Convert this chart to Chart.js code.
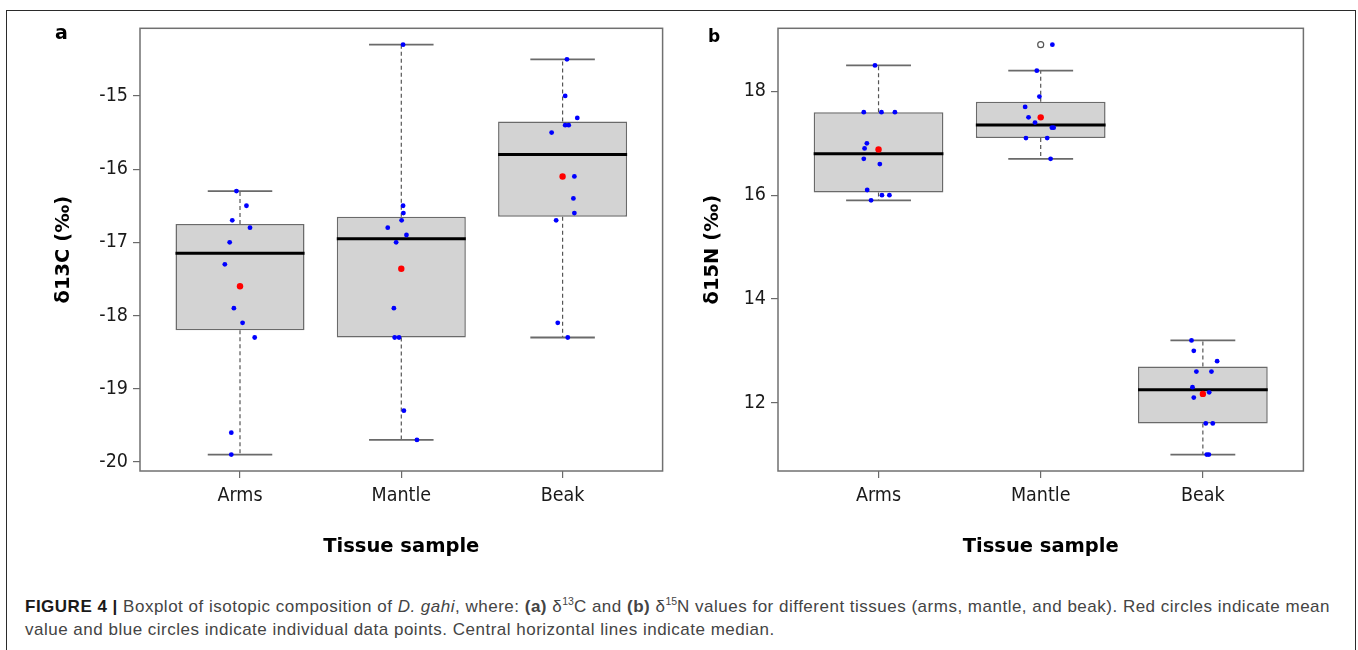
<!DOCTYPE html>
<html>
<head>
<meta charset="utf-8">
<script src="https://cdn.jsdelivr.net/npm/chart.js@4.4.1/dist/chart.umd.min.js"></script>
<style>
html,body{margin:0;padding:0;background:#fff;}
#wrap{position:relative;width:1358px;height:650px;overflow:hidden;background:#fff;}
#frame{position:absolute;left:6px;top:10px;width:1350px;height:680px;border:1.5px solid #2b2b2b;box-sizing:border-box;}
canvas{position:absolute;top:0;}
#ca{left:0;}
#cb{left:680px;}
.lab{position:absolute;font-family:"DejaVu Sans",sans-serif;font-weight:bold;color:#000;line-height:1;}
#caption{position:absolute;left:25px;top:595px;font-family:"Liberation Sans",Arial,sans-serif;font-size:17px;letter-spacing:0.5px;color:#444;line-height:23.4px;white-space:nowrap;}
#caption b.fig{color:#1a1a1a;}
#caption sup{font-size:10.5px;vertical-align:7px;line-height:0;letter-spacing:0;}
</style>
</head>
<body>
<div id="wrap">
  <div id="frame"></div>
  <canvas id="ca" width="680" height="570"></canvas>
  <canvas id="cb" width="678" height="570"></canvas>
  <div class="lab" style="left:55px;top:23px;font-size:19px;">a</div>
  <div class="lab" style="left:708px;top:28px;font-size:17px;">b</div>
  <div id="caption"><b class="fig">FIGURE 4 |</b> Boxplot of isotopic composition of <i>D. gahi</i>, where: <b>(a)</b> δ<sup>13</sup>C and <b>(b)</b> δ<sup>15</sup>N values for different tissues (arms, mantle, and beak). Red circles indicate mean<br>value and blue circles indicate individual data points. Central horizontal lines indicate median.</div>
</div>
<script>
// ---------- categories ----------
const categories = ['Arms', 'Mantle', 'Beak'];
const catPos = [1, 2, 3];

// ---------- panel a : δ13C ----------
const c13Low    = [-19.9, -19.7, -18.3];
const c13Q1     = [-18.2, -18.3, -16.65];
const c13Median = [-17.15, -16.95, -15.8];
const c13Q3     = [-16.75, -16.65, -15.35];
const c13High   = [-16.3, -14.3, -14.5];
const c13Mean   = [-17.6, -17.36, -16.1];
const c13Outlier = [null, null, null];
const c13Arms         = [-16.3, -16.5, -16.7, -16.8, -17.0, -17.3, -17.9, -18.1, -18.3, -19.6, -19.9];
const c13ArmsJitter   = [-0.022, 0.040, -0.048, 0.062, -0.064, -0.094, -0.038, 0.016, 0.091, -0.054, -0.054];
const c13Mantle       = [-14.3, -16.5, -16.6, -16.7, -16.8, -16.9, -17.0, -17.9, -18.3, -18.3, -19.3, -19.7];
const c13MantleJitter = [0.011, 0.011, 0.013, 0.002, -0.084, 0.032, -0.032, -0.046, -0.041, -0.014, 0.016, 0.097];
const c13Beak         = [-14.5, -15.0, -15.3, -15.4, -15.4, -15.5, -16.1, -16.4, -16.6, -16.7, -18.1, -18.3];
const c13BeakJitter   = [0.027, 0.016, 0.091, 0.016, 0.038, -0.068, 0.073, 0.067, 0.073, -0.040, -0.030, 0.032];
const c13Ticks = [-20, -19, -18, -17, -16, -15];

// ---------- panel b : δ15N ----------
const n15Low    = [15.9, 16.7, 11.0];
const n15Q1     = [16.05, 17.1, 11.6];
const n15Median = [16.8, 17.35, 12.25];
const n15Q3     = [17.6, 17.8, 12.7];
const n15High   = [18.5, 18.4, 13.2];
const n15Mean   = [16.88, 17.5, 12.17];
const n15Outlier = [null, 18.9, null];
const n15Arms         = [18.5, 17.6, 17.6, 17.6, 17.0, 16.9, 16.7, 16.6, 16.1, 16.0, 16.0, 15.9];
const n15ArmsJitter   = [-0.022, -0.091, 0.018, 0.101, -0.072, -0.086, -0.091, 0.008, -0.070, 0.021, 0.067, -0.046];
const n15Mantle       = [18.9, 18.4, 17.9, 17.7, 17.5, 17.4, 17.3, 17.3, 17.1, 17.1, 16.7];
const n15MantleJitter = [0.072, -0.024, -0.008, -0.096, -0.075, -0.035, 0.069, 0.080, -0.091, 0.040, 0.061];
const n15Beak         = [13.2, 13.0, 12.8, 12.6, 12.6, 12.3, 12.2, 12.1, 11.6, 11.6, 11.0, 11.0];
const n15BeakJitter   = [-0.070, -0.056, 0.088, -0.040, 0.053, -0.064, 0.039, -0.056, 0.018, 0.061, 0.024, 0.037];
const n15Ticks = [12, 14, 16, 18];

// ---------- styling constants ----------
const BOX_HALF = 0.4, CAP_HALF = 0.2;
const GREY = '#6a6a6a';
const tickFont = {family: '"DejaVu Sans Condensed","Liberation Sans Narrow","DejaVu Sans",sans-serif', size: 19.5};
const titleFont = {family: '"DejaVu Sans",sans-serif', size: 19.5, weight: 'bold'};

const framePlugin = {
  id: 'frame',
  afterDatasetsDraw(chart) {
    const a = chart.chartArea, ctx = chart.ctx;
    ctx.save();
    ctx.strokeStyle = '#707070';
    ctx.lineWidth = 1.5;
    ctx.strokeRect(a.left, a.top, a.right - a.left, a.bottom - a.top);
    ctx.restore();
  }
};

function rRange(vals) {
  const v = vals.filter(x => x !== null);
  const lo = Math.min(...v), hi = Math.max(...v), e = (hi - lo) * 0.04;
  return [lo - e, hi + e];
}

function makePanel(id, s) {
  const boxData = catPos.map((x, i) => ({x, y: [s.q1[i], s.q3[i]]}));
  const whiskData = [], capData = [], medData = [];
  catPos.forEach((x, i) => {
    whiskData.push({x, y: s.q3[i]}, {x, y: s.high[i]}, {x, y: null}, {x, y: s.q1[i]}, {x, y: s.low[i]}, {x, y: null});
    capData.push({x: x - CAP_HALF, y: s.high[i]}, {x: x + CAP_HALF, y: s.high[i]}, {x, y: null},
                 {x: x - CAP_HALF, y: s.low[i]}, {x: x + CAP_HALF, y: s.low[i]}, {x, y: null});
    medData.push({x: x - BOX_HALF, y: s.median[i]}, {x: x + BOX_HALF, y: s.median[i]}, {x, y: null});
  });
  const ptData = [];
  s.groups.forEach((g, i) => g.vals.forEach((v, k) => ptData.push({x: catPos[i] + g.jit[k], y: v})));
  const meanData = catPos.map((x, i) => ({x, y: s.mean[i]}));
  const outData = [];
  catPos.forEach((x, i) => { if (s.outlier[i] !== null) outData.push({x, y: s.outlier[i]}); });
  const all = [].concat(s.low, s.high, s.outlier);
  const [ymin, ymax] = rRange(all);

  new Chart(document.getElementById(id), {
    type: 'scatter',
    data: {
      datasets: [
        {type: 'bar', data: boxData, backgroundColor: '#d3d3d3', borderColor: GREY, borderWidth: 1.5,
         borderSkipped: false, barPercentage: 0.8, categoryPercentage: 1, grouped: false, order: 6},
        {type: 'line', data: whiskData, borderColor: '#555', borderWidth: 1.2, borderDash: [4, 3],
         pointRadius: 0, spanGaps: false, fill: false, order: 5},
        {type: 'line', data: capData, borderColor: GREY, borderWidth: 1.8,
         pointRadius: 0, spanGaps: false, fill: false, order: 4},
        {type: 'line', data: medData, borderColor: '#000', borderWidth: 3,
         pointRadius: 0, spanGaps: false, fill: false, order: 3},
        {type: 'scatter', data: outData, pointRadius: 3, pointBackgroundColor: '#fff',
         pointBorderColor: '#555', pointBorderWidth: 1.2, order: 2},
        {type: 'scatter', data: ptData, pointRadius: 2.4, pointBackgroundColor: '#0000ff',
         pointBorderWidth: 0, order: 1},
        {type: 'scatter', data: meanData, pointRadius: 3.2, pointBackgroundColor: '#ff0000',
         pointBorderWidth: 0, order: 0}
      ]
    },
    options: {
      responsive: false, animation: false, devicePixelRatio: 1,
      layout: {padding: {top: 28.3, right: s.padRight, left: 0, bottom: 0}},
      plugins: {legend: {display: false}, tooltip: {enabled: false}},
      scales: {
        x: {
          type: 'linear', min: 0.38, max: 3.62, offset: false,
          afterBuildTicks: sc => { sc.ticks = catPos.map(v => ({value: v})); },
          afterFit: sc => { sc.height = 99; },
          ticks: {callback: v => categories[Math.round(v) - 1], font: tickFont, color: '#1a1a1a',
                  padding: 6, maxRotation: 0, autoSkip: false},
          grid: {display: true, drawOnChartArea: false, drawTicks: true, tickLength: 7, color: GREY, lineWidth: 1.2, offset: false},
          border: {display: false},
          title: {display: true, text: 'Tissue sample', font: titleFont, color: '#000', padding: {top: 0, bottom: 11}}
        },
        y: {
          type: 'linear', min: ymin, max: ymax,
          afterBuildTicks: sc => { sc.ticks = s.ticks.map(v => ({value: v})); },
          afterFit: sc => { sc.width = s.yWidth; },
          ticks: {font: tickFont, color: '#1a1a1a', padding: 5, callback: v => String(v)},
          grid: {display: true, drawOnChartArea: false, drawTicks: true, tickLength: 7, color: GREY, lineWidth: 1.2},
          border: {display: false},
          title: {display: true, text: s.title, font: titleFont, color: '#000', padding: {top: s.titlePad, bottom: 0}}
        }
      }
    },
    plugins: [framePlugin]
  });
}

makePanel('ca', {
  low: c13Low, q1: c13Q1, median: c13Median, q3: c13Q3, high: c13High, mean: c13Mean, outlier: c13Outlier,
  groups: [{vals: c13Arms, jit: c13ArmsJitter}, {vals: c13Mantle, jit: c13MantleJitter}, {vals: c13Beak, jit: c13BeakJitter}],
  ticks: c13Ticks, title: 'δ13C (‰)', yWidth: 140, padRight: 17.4, titlePad: 52
});
makePanel('cb', {
  low: n15Low, q1: n15Q1, median: n15Median, q3: n15Q3, high: n15High, mean: n15Mean, outlier: n15Outlier,
  groups: [{vals: n15Arms, jit: n15ArmsJitter}, {vals: n15Mantle, jit: n15MantleJitter}, {vals: n15Beak, jit: n15BeakJitter}],
  ticks: n15Ticks, title: 'δ15N (‰)', yWidth: 98, padRight: 54.6, titlePad: 21
});
</script>
</body>
</html>
